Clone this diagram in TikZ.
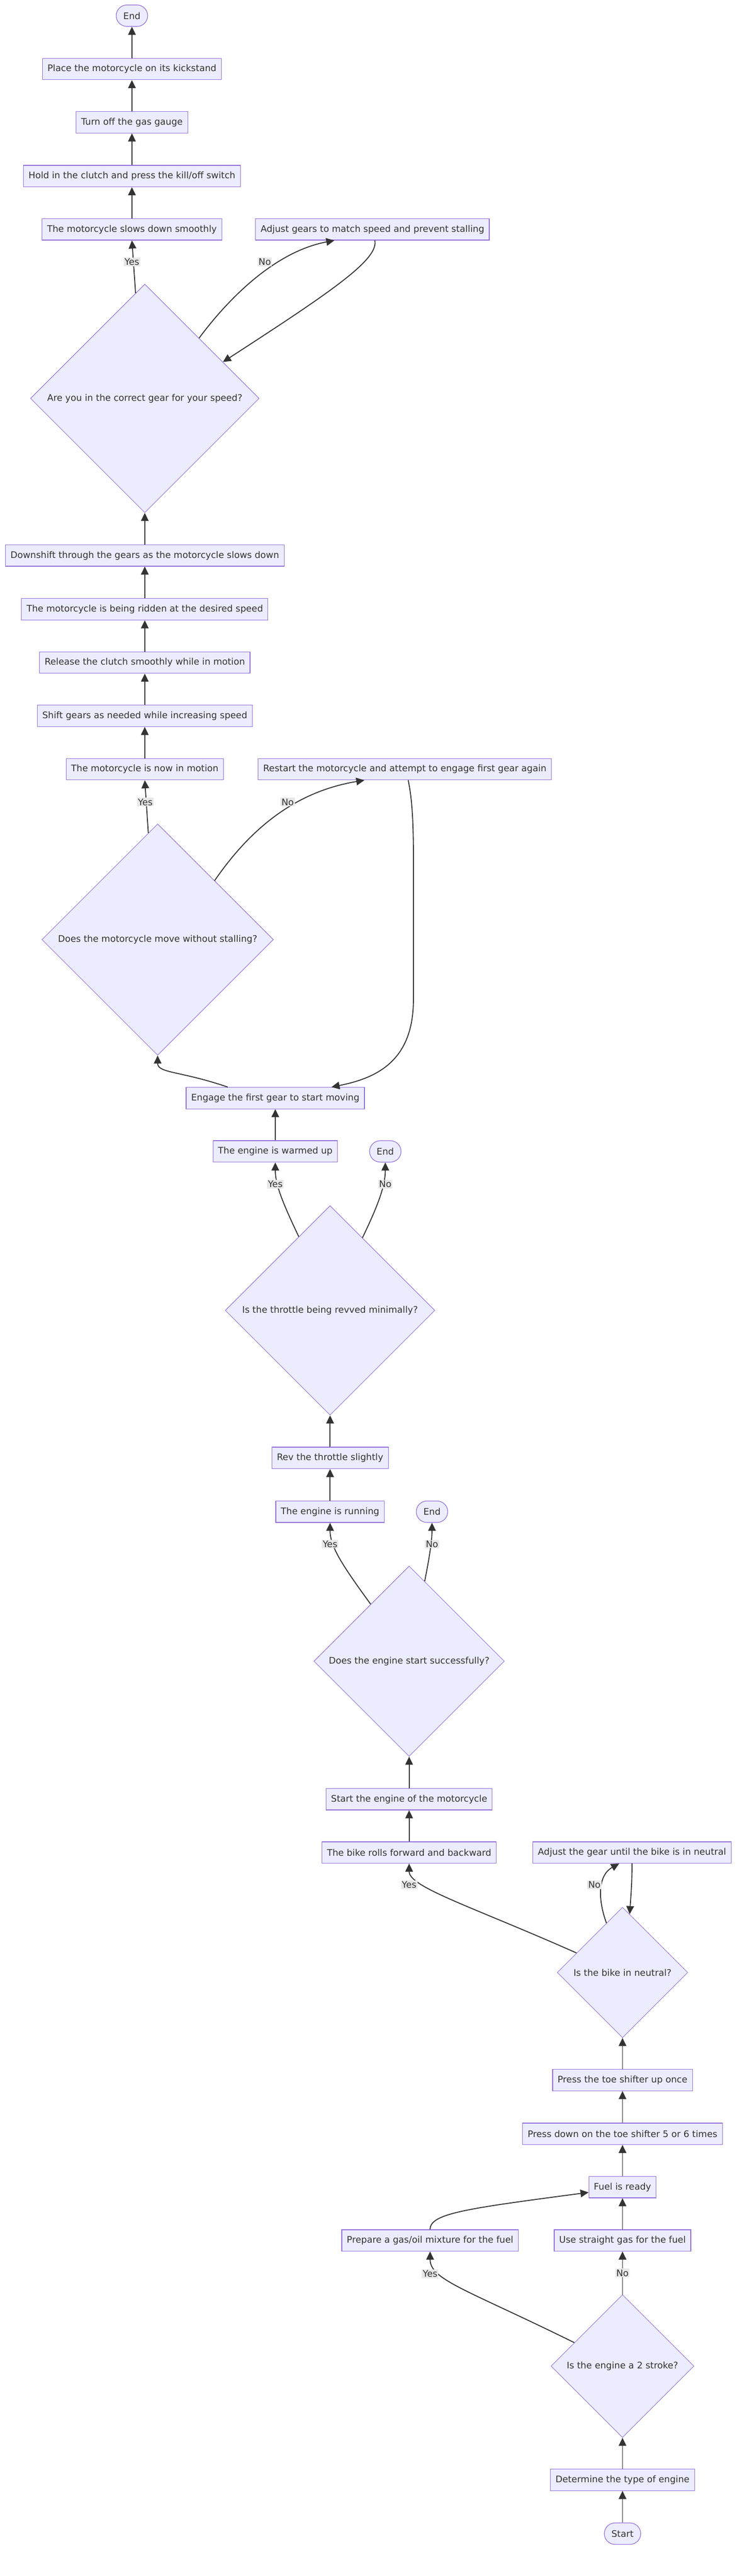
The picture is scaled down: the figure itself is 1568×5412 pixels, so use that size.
\documentclass[tikz,border=0pt]{standalone}
\usepackage{fontspec}
\setmainfont{DejaVu Sans}
\usepackage{xcolor}
\usetikzlibrary{shapes.geometric,arrows.meta}
\definecolor{vdarkgray}{HTML}{333333}
\definecolor{vlavender}{HTML}{ECECFF}
\definecolor{vpurple}{HTML}{9370DB}
\definecolor{vlightgray}{HTML}{E8E8E8}

\begin{document}
\begin{tikzpicture}[x=0.5pt, y=-0.5pt,
		font=\fontsize{9.5pt}{11.4pt}\selectfont,
		stepbox/.style={draw=vpurple, fill=vlavender, line width=0.65pt, text=vdarkgray, inner xsep=5.25pt, inner ysep=0pt, minimum height=22.5pt},
		termbox/.style={stepbox, rounded corners=11.25pt, inner xsep=7.5pt},
		choice/.style={draw=vpurple, fill=vlavender, line width=0.5pt, text=vdarkgray, shape=diamond, aspect=1, inner sep=0pt, minimum size=#1},
		flow/.style={draw=vdarkgray, line width=1pt, -{Triangle[length=8.5pt,width=8pt]}},
		answer/.style={fill=vlightgray, text=vdarkgray, inner sep=1pt}]
		\fill[white] (0,0) rectangle (1568,5412);
		\useasboundingbox (0,0) rectangle (1568,5412);
		\node[termbox] (stop1) at (277,33) {End};
		\node[stepbox] (kickstand) at (277,145) {Place the motorcycle on its kickstand};
		\node[stepbox] (gasoff) at (277,257) {Turn off the gas gauge};
		\node[stepbox] (killswitch) at (277,370) {Hold in the clutch and press the kill/off switch};
		\node[stepbox] (slowdown) at (277,482) {The motorcycle slows down smoothly};
		\node[stepbox] (adjustgear) at (782,482) {Adjust gears to match speed and prevent stalling};
		\node[choice=240pt] (gearok) at (304,837) {Are you in the correct gear for your speed?};
		\node[stepbox] (downshift) at (304,1167) {Downshift through the gears as the motorcycle slows down};
		\node[stepbox] (riding) at (304,1280) {The motorcycle is being ridden at the desired speed};
		\node[stepbox] (clutch) at (304,1392) {Release the clutch smoothly while in motion};
		\node[stepbox] (shiftup) at (304,1504) {Shift gears as needed while increasing speed};
		\node[stepbox] (moving) at (304,1616) {The motorcycle is now in motion};
		\node[stepbox] (restart) at (850,1616) {Restart the motorcycle and attempt to engage first gear again};
		\node[choice=243pt] (nostall) at (331,1974) {Does the motorcycle move without stalling?};
		\node[stepbox] (firstgear) at (578,2307) {Engage the first gear to start moving};
		\node[stepbox] (warm) at (578,2419) {The engine is warmed up};
		\node[termbox] (stop2) at (809,2419) {End};
		\node[choice=220pt] (revok) at (693,2753) {Is the throttle being revved minimally?};
		\node[stepbox] (rev) at (693,3063) {Rev the throttle slightly};
		\node[stepbox] (running) at (693,3176) {The engine is running};
		\node[termbox] (stop3) at (907,3176) {End};
		\node[choice=200pt] (startok) at (859,3490) {Does the engine start successfully?};
		\node[stepbox] (ignite) at (859,3780) {Start the engine of the motorcycle};
		\node[stepbox] (rolls) at (859,3892) {The bike rolls forward and backward};
		\node[stepbox] (adjustneutral) at (1327,3892) {Adjust the gear until the bike is in neutral};
		\node[choice=137pt] (neutral) at (1307,4144) {Is the bike in neutral?};
		\node[stepbox] (toeup) at (1307,4370) {Press the toe shifter up once};
		\node[stepbox] (toedown) at (1307,4483) {Press down on the toe shifter 5 or 6 times};
		\node[stepbox] (fuel) at (1307,4595) {Fuel is ready};
		\node[stepbox] (mixture) at (903,4707) {Prepare a gas/oil mixture for the fuel};
		\node[stepbox] (straightgas) at (1307,4707) {Use straight gas for the fuel};
		\node[choice=150pt] (twostroke) at (1307,4971) {Is the engine a 2 stroke?};
		\node[stepbox] (enginetype) at (1307,5210) {Determine the type of engine};
		\node[termbox] (begin) at (1307,5323) {Start};
		\draw[flow] (begin) -- (enginetype);
		\draw[flow] (enginetype) -- (twostroke);
		\draw[flow] (twostroke.154) .. controls (980,4810) and (903,4790) .. (mixture.south) node[answer] at (903,4777) {Yes};
		\draw[flow] (twostroke) -- (straightgas) node[answer, midway] {No};
		\draw[flow] (straightgas) -- (fuel);
		\draw[flow] (mixture.north) .. controls (903,4650) and (980,4640) .. ([yshift=-5.5pt]fuel.west);
		\draw[flow] (fuel) -- (toedown);
		\draw[flow] (toedown) -- (toeup);
		\draw[flow] (toeup) -- (neutral);
		\draw[flow] (neutral.157) .. controls (990,4005) and (859,3965) .. (rolls.south) node[answer] at (859,3960) {Yes};
		\draw[flow] (neutral.108) .. controls (1255,3990) and (1255,3940) .. ([xshift=-13.5pt]adjustneutral.south) node[answer] at (1248,3960) {No};
		\draw[flow] (adjustneutral.south) .. controls (1327,3960) and (1324,3990) .. (neutral.83);
		\draw[flow] (rolls) -- (ignite);
		\draw[flow] (ignite) -- (startok);
		\draw[flow] (startok.124) .. controls (720,3290) and (693,3250) .. (running.south) node[answer] at (693,3244) {Yes};
		\draw[flow] (startok.79) .. controls (900,3280) and (907,3240) .. (stop3.south) node[answer] at (907,3244) {No};
		\draw[flow] (running) -- (rev);
		\draw[flow] (rev) -- (revok);
		\draw[flow] (revok.113) .. controls (595,2530) and (578,2490) .. (warm.south) node[answer] at (578,2488) {Yes};
		\draw[flow] (revok.66) .. controls (795,2530) and (809,2490) .. (stop2.south) node[answer] at (809,2488) {No};
		\draw[flow] (warm) -- (firstgear);
		\draw[flow] ([xshift=-50pt]firstgear.north) .. controls (380,2250) and (331,2255) .. (nostall.south);
		\draw[flow] (nostall.95) -- (moving.south) node[answer] at (305,1685) {Yes};
		\draw[flow] (nostall.46) .. controls (540,1720) and (640,1660) .. ([xshift=-42.5pt]restart.south) node[answer] at (604,1685) {No};
		\draw[flow] ([xshift=3.5pt]restart.south) .. controls (870,1700) and (868,1780) .. (868,1900) -- (868,2100) .. controls (868,2230) and (790,2265) .. ([xshift=59pt]firstgear.north);
		\draw[flow] (moving) -- (shiftup);
		\draw[flow] (shiftup) -- (clutch);
		\draw[flow] (clutch) -- (riding);
		\draw[flow] (riding) -- (downshift);
		\draw[flow] (downshift) -- (gearok);
		\draw[flow] (gearok.95) -- (slowdown.south) node[answer] at (277,550) {Yes};
		\draw[flow] (gearok.48) .. controls (470,640) and (570,530) .. ([xshift=-40pt]adjustgear.south) node[answer] at (556,550) {No};
		\draw[flow] ([xshift=2.5pt]adjustgear.south) .. controls (795,545) and (700,610) .. (gearok.25);
		\draw[flow] (slowdown) -- (killswitch);
		\draw[flow] (killswitch) -- (gasoff);
		\draw[flow] (gasoff) -- (kickstand);
		\draw[flow] (kickstand) -- (stop1);
	\end{tikzpicture}
\end{document}
